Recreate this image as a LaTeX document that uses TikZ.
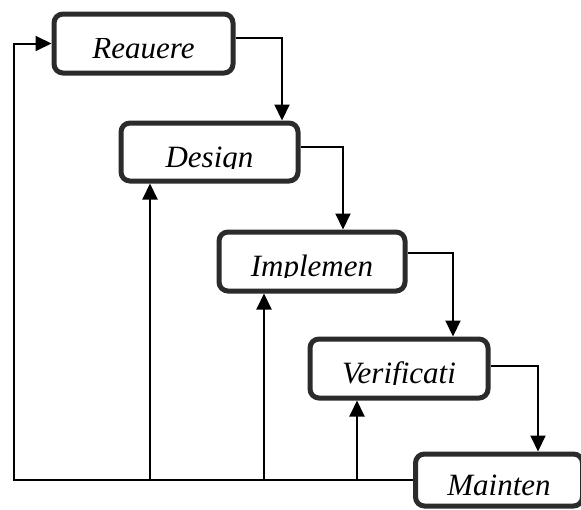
\documentclass[tikz,border=0pt]{standalone}
\usepackage{fontspec}
\setmainfont{Liberation Serif}
\usepackage{adjustbox}
\usetikzlibrary{arrows.meta}

% labels lose what hangs below the baseline
\newcommand{\cuttext}[1]{\clipbox{0pt {\depth-1pt} 0pt 0pt}{#1}}
\definecolor{boxline}{HTML}{2B2B2B}

\begin{document}
\begin{tikzpicture}[x=1pt, y=-1pt, >={Triangle[length=16pt,width=15pt]},
    phase/.style={draw=boxline, line width=5pt, rounded corners=9pt,
        minimum height=59pt, inner sep=0pt, text height=30pt, text depth=0pt,
        font=\fontsize{31}{31}\selectfont\itshape},
    flow/.style={line width=2pt, ->}]
    \useasboundingbox (0,0) rectangle (581,509);
    \node[phase, minimum width=179pt] (req) at (143.5,43.5) {\cuttext{Reauere}};
    \node[phase, minimum width=177pt, minimum height=58pt] (des) at (209.5,152) {\cuttext{Design}};
    \node[phase, minimum width=186pt] (impl) at (312,261.5) {\cuttext{Implemen}};
    \node[phase, minimum width=178pt] (ver) at (399,368.5) {\cuttext{Verificati}};
    \node[phase, minimum width=167pt, minimum height=52pt] (mnt) at (499,480) {\cuttext{Mainten}};
    % going down
    \draw[flow] (req.east |- 0,38) -| (282,0 |- des.north);
    \draw[flow] (des.east |- 0,147) -| (343,0 |- impl.north);
    \draw[flow] (impl.east |- 0,253) -| (453,0 |- ver.north);
    \draw[flow] (ver.east |- 0,366) -| (538,0 |- mnt.north);
    % going back up
    \draw[flow] (mnt.west) -| (14,0 |- req.west) -- (req.west);
    \foreach \x/\n in {150/des, 264/impl, 357/ver}
        \draw[flow] (\x,0 |- mnt.west) -- (\x,0 |- \n.south);
\end{tikzpicture}
\end{document}
